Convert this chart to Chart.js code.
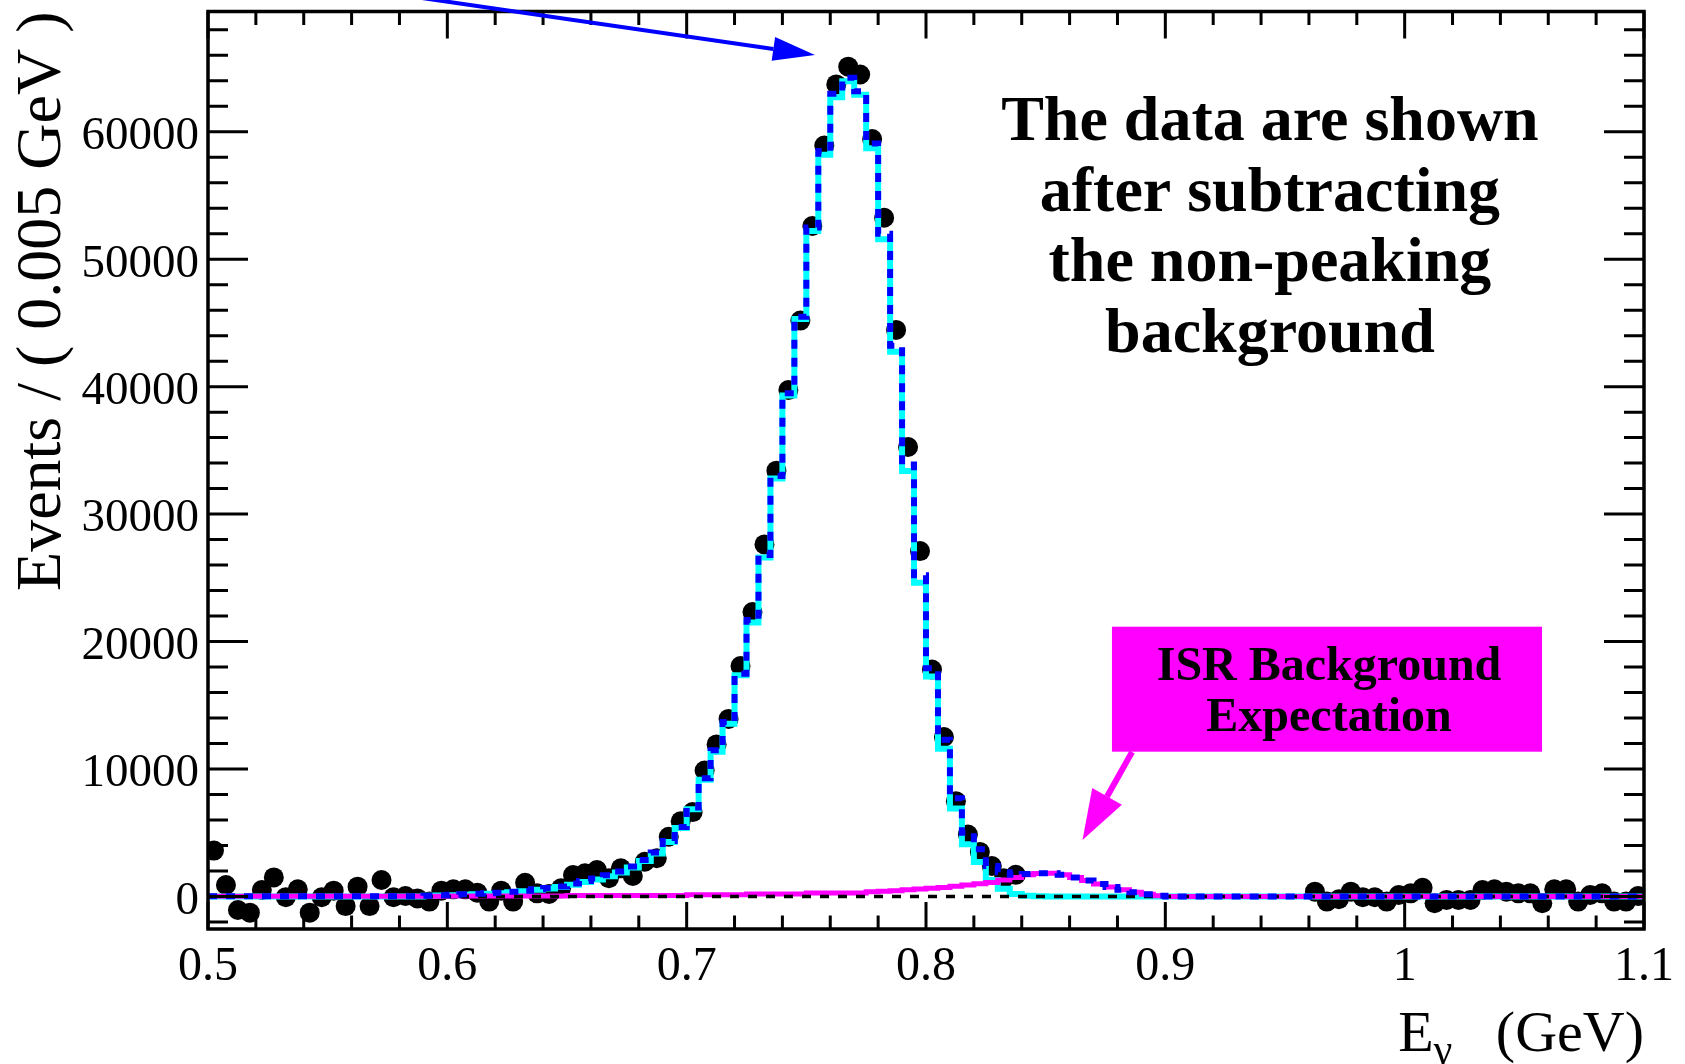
<!DOCTYPE html>
<html>
<head>
<meta charset="utf-8">
<script src="https://cdn.jsdelivr.net/npm/chart.js@4.4.1/dist/chart.umd.min.js"></script>
<style>
  html, body { margin: 0; padding: 0; background: #fff; }
  canvas { display: block; }
</style>
</head>
<body>
<canvas id="plot" width="1685" height="1064"></canvas>
<script>
// binning: 120 bins of 0.005 GeV from 0.5 to 1.1
const binLow = 0.5;
const binWidth = 0.005;
const nBins = 120;

// background-subtracted data (null = no point drawn)
const dataCounts = [
  3600, 900, -1060, -1270, 510, 1500, -50, 560, -1270, -60,
  460, -750, 770, -750, 1290, -60, 40, -150, -400, 460,
  560, 560, 300, -400, 460, -400, 1080, 250, 200, 640,
  1690, 1820, 2080, 1430, 2210, 1610, 2730, 3000, 4690, 5900,
  6620, 9880, 11930, 13930, 18080, 22320, 27620, 33410, 39730, 45180,
  52600, 58910, 63710, 65100, 64490, 59430, 53250, 44450, 35260, 27100,
  17800, 12510, 7480, 4860, 3500, 2390, 1430, 1700, null, null,
  null, null, null, null, null, null, null, null, null, null,
  null, null, null, null, null, null, null, null, null, null,
  null, null, 380, -400, -220, 380, -60, -60, -400, 120,
  250, 690, -530, -270, -270, -270, 510, 560, 380, 250,
  250, -530, 560, 560, -400, 120, 250, -400, -400, 40
];

// signal MC (cyan)
const signalMC = [
  0, 0, 0, 0, 0, 0, 0, 0, 0, 0,
  0, 0, 0, 0, 0, 0, 0, 0, 50, 80,
  100, 130, 170, 210, 250, 330, 420, 520, 620, 750,
  930, 1130, 1330, 1580, 1880, 2280, 2780, 3380, 4270, 5370,
  6850, 9150, 11350, 13550, 17350, 21500, 26600, 32800, 39300, 45300,
  52200, 58200, 62700, 63950, 62900, 58700, 51570, 42740, 33380, 24620,
  17260, 11600, 6900, 4100, 2700, 1300, 600, 200, 60, 20,
  0, 0, 0, 0, 0, 0, 0, 0, 0, 0,
  0, 0, 0, 0, 0, 0, 0, 0, 0, 0,
  0, 0, 0, 0, 0, 0, 0, 0, 0, 0,
  0, 0, 0, 0, 0, 0, 0, 0, 0, 0,
  0, 0, 0, 0, 0, 0, 0, 0, 0, 0
];

// ISR background expectation (magenta)
const isrBkg = [
  10, 10, 10, 10, 10, 10, 10, 10, 10, 10,
  10, 10, 10, 10, 10, 10, 10, 10, 10, 10,
  40, 40, 40, 40, 40, 40, 40, 40, 40, 40,
  80, 80, 80, 80, 80, 80, 80, 80, 80, 80,
  130, 130, 130, 130, 130, 190, 190, 190, 190, 190,
  280, 280, 280, 280, 280, 380, 420, 460, 520, 580,
  640, 700, 800, 900, 1000, 1100, 1300, 1500, 1700, 1800,
  1820, 1700, 1500, 1250, 980, 750, 520, 330, 170, 60,
  0, 0, 0, 0, 0, 0, 0, 0, 0, 0,
  0, 0, 0, 0, 0, 0, 0, 0, 0, 0,
  0, 0, 0, 0, 0, 0, 0, 0, 0, 0,
  0, 0, 0, 0, 0, 0, 0, 0, 0, 0
];

// total expectation (blue dashed)
const totalFit = [
  10, 10, 10, 10, 10, 10, 10, 10, 10, 10,
  10, 10, 10, 10, 10, 10, 10, 10, 60, 90,
  140, 170, 210, 250, 290, 370, 460, 560, 660, 790,
  1010, 1210, 1410, 1660, 1960, 2360, 2860, 3460, 4350, 5450,
  6980, 9280, 11480, 13680, 17480, 21690, 26790, 32990, 39490, 45490,
  52480, 58480, 62980, 64230, 63180, 59080, 51990, 43200, 33900, 25200,
  17900, 12300, 7700, 5000, 3700, 2400, 1900, 1700, 1760, 1820,
  1820, 1700, 1500, 1250, 980, 750, 520, 330, 170, 60,
  0, 0, 0, 0, 0, 0, 0, 0, 0, 0,
  0, 0, 0, 0, 0, 0, 0, 0, 0, 0,
  0, 0, 0, 0, 0, 0, 0, 0, 0, 0,
  0, 0, 0, 0, 0, 0, 0, 0, 0, 0
];

const xTicks = [0.5, 0.6, 0.7, 0.8, 0.9, 1.0, 1.1];
const yTicks = [0, 10000, 20000, 30000, 40000, 50000, 60000];
const noteLines = ['The data are shown', 'after subtracting', 'the non-peaking', 'background'];
const isrLines = ['ISR Background', 'Expectation'];

const serif = '"Liberation Serif", "Times New Roman", serif';

function histPoints(vals) {
  const pts = vals.map((v, i) => ({ x: binLow + i * binWidth, y: v }));
  pts.push({ x: binLow + nBins * binWidth, y: vals[nBins - 1] });
  return pts;
}

const dataPoints = dataCounts
  .map((v, i) => ({ x: binLow + (i + 0.5) * binWidth, y: v }))
  .filter(p => p.y !== null);

function arrow(ctx, x0, y0, x1, y1, headLen, headHalf, width, color) {
  const ang = Math.atan2(y1 - y0, x1 - x0);
  const bx = x1 - headLen * Math.cos(ang), by = y1 - headLen * Math.sin(ang);
  ctx.strokeStyle = color;
  ctx.fillStyle = color;
  ctx.lineWidth = width;
  ctx.beginPath();
  ctx.moveTo(x0, y0);
  ctx.lineTo(bx, by);
  ctx.stroke();
  ctx.beginPath();
  ctx.moveTo(x1, y1);
  ctx.lineTo(bx + headHalf * Math.sin(ang), by - headHalf * Math.cos(ang));
  ctx.lineTo(bx - headHalf * Math.sin(ang), by + headHalf * Math.cos(ang));
  ctx.closePath();
  ctx.fill();
}

// frame, inside ticks, annotations
const framePlugin = {
  id: 'frame',
  afterDraw(chart) {
    const { ctx, chartArea: a, scales: { x, y } } = chart;
    ctx.save();
    ctx.strokeStyle = '#000';
    ctx.lineWidth = 3;
    ctx.beginPath();
    for (let i = 0; i <= 30; i++) {
      const px = x.getPixelForValue(0.5 + i * 0.02);
      const len = i % 5 === 0 ? 27 : 13.5;
      ctx.moveTo(px, a.bottom); ctx.lineTo(px, a.bottom - len);
      ctx.moveTo(px, a.top); ctx.lineTo(px, a.top + len);
    }
    for (let v = -2000; v <= 68000; v += 2000) {
      const py = y.getPixelForValue(v);
      const len = v % 10000 === 0 ? 40 : 20;
      ctx.moveTo(a.left, py); ctx.lineTo(a.left + len, py);
      ctx.moveTo(a.right, py); ctx.lineTo(a.right - len, py);
    }
    ctx.stroke();
    ctx.lineWidth = 3.5;
    ctx.strokeRect(a.left, a.top, a.right - a.left, a.bottom - a.top);

    // x axis title with subscript gamma, right aligned to the axis end
    const parts = [
      { t: 'E', size: 58, dy: 0 },
      { t: 'γ', size: 42, dy: 12 },
      { t: '   (GeV)', size: 58, dy: 0 }
    ];
    let total = 0;
    parts.forEach(p => { ctx.font = p.size + 'px ' + serif; p.w = ctx.measureText(p.t).width; total += p.w; });
    let cx = a.right - total;
    ctx.fillStyle = '#000';
    ctx.textBaseline = 'alphabetic';
    ctx.textAlign = 'left';
    parts.forEach(p => { ctx.font = p.size + 'px ' + serif; ctx.fillText(p.t, cx, 1051 + p.dy); cx += p.w; });

    // blue arrow pointing at the peak
    arrow(ctx, x.getPixelForValue(0.5664), y.getPixelForValue(71115),
      x.getPixelForValue(0.7536), y.getPixelForValue(66015), 42, 12, 4, '#0000ff');

    // note text
    ctx.fillStyle = '#000';
    ctx.textAlign = 'center';
    ctx.font = 'bold 64px ' + serif;
    const nx = x.getPixelForValue(0.9437);
    const ny = y.getPixelForValue(59347);
    noteLines.forEach((t, i) => ctx.fillText(t, nx, ny + i * 70.7));

    // ISR box
    const bx0 = x.getPixelForValue(0.8777), bx1 = x.getPixelForValue(1.0574);
    const by0 = y.getPixelForValue(21166), by1 = y.getPixelForValue(11360);
    ctx.fillStyle = '#ff00ff';
    ctx.fillRect(bx0, by0, bx1 - bx0, by1 - by0);
    ctx.fillStyle = '#000';
    ctx.font = 'bold 48px ' + serif;
    isrLines.forEach((t, i) => ctx.fillText(t, (bx0 + bx1) / 2 + 2, by0 + 53 + i * 51));

    arrow(ctx, x.getPixelForValue(0.8861), y.getPixelForValue(11336),
      x.getPixelForValue(0.8654), y.getPixelForValue(4432), 50, 17, 6, '#ff00ff');
    ctx.restore();
  }
};

Chart.defaults.font.family = serif;
Chart.defaults.color = '#000';

new Chart(document.getElementById('plot').getContext('2d'), {
  type: 'line',
  data: {
    datasets: [
      {
        label: 'Total',
        data: histPoints(totalFit),
        stepped: true,
        borderColor: '#0000ff',
        borderWidth: 6,
        borderDash: [9, 9],
        pointRadius: 0,
        fill: false,
        order: 0
      },
      {
        label: 'Zero',
        data: [{ x: 0.5, y: 0 }, { x: 1.1, y: 0 }],
        borderColor: '#000',
        borderWidth: 3.5,
        borderDash: [9, 9],
        pointRadius: 0,
        order: 1
      },
      {
        label: 'ISR Background',
        data: histPoints(isrBkg),
        stepped: true,
        borderColor: '#ff00ff',
        borderWidth: 5,
        pointRadius: 0,
        order: 2
      },
      {
        label: 'Signal',
        data: histPoints(signalMC),
        stepped: true,
        borderColor: '#00ffff',
        borderWidth: 6,
        pointRadius: 0,
        order: 3
      },
      {
        label: 'Data',
        data: dataPoints,
        showLine: false,
        pointRadius: 10,
        pointBackgroundColor: '#000',
        pointBorderWidth: 0,
        borderColor: '#000',
        order: 4
      }
    ]
  },
  options: {
    responsive: false,
    animation: false,
    devicePixelRatio: 1,
    layout: { padding: { top: 11.5, right: 41, bottom: 0, left: 0 } },
    plugins: {
      legend: { display: false },
      tooltip: { enabled: false }
    },
    scales: {
      x: {
        type: 'linear',
        min: 0.5,
        max: 1.1,
        grid: { display: false, drawTicks: false },
        border: { display: false },
        afterBuildTicks: s => { s.ticks = xTicks.map(v => ({ value: v })); },
        afterFit: s => { s.height = 135; s.paddingLeft = 0; s.paddingRight = 0; },
        ticks: {
          maxRotation: 0,
          autoSkip: false,
          padding: 10,
          font: { size: 48, family: serif },
          callback: v => String(+v.toFixed(2))
        }
      },
      y: {
        min: -2550,
        max: 69430,
        grid: { display: false, drawTicks: false },
        border: { display: false },
        afterBuildTicks: s => { s.ticks = yTicks.map(v => ({ value: v })); },
        afterFit: s => { s.width = 208; s.paddingTop = 0; s.paddingBottom = 0; },
        ticks: {
          padding: 9,
          labelOffset: 5,
          font: { size: 47, family: serif },
          callback: v => String(v)
        },
        title: {
          display: true,
          text: 'Events / ( 0.005 GeV )',
          align: 'end',
          font: { size: 64, family: serif, lineHeight: 1 },
          padding: { top: 11, bottom: 0 }
        }
      }
    }
  },
  plugins: [framePlugin]
});
</script>
</body>
</html>
